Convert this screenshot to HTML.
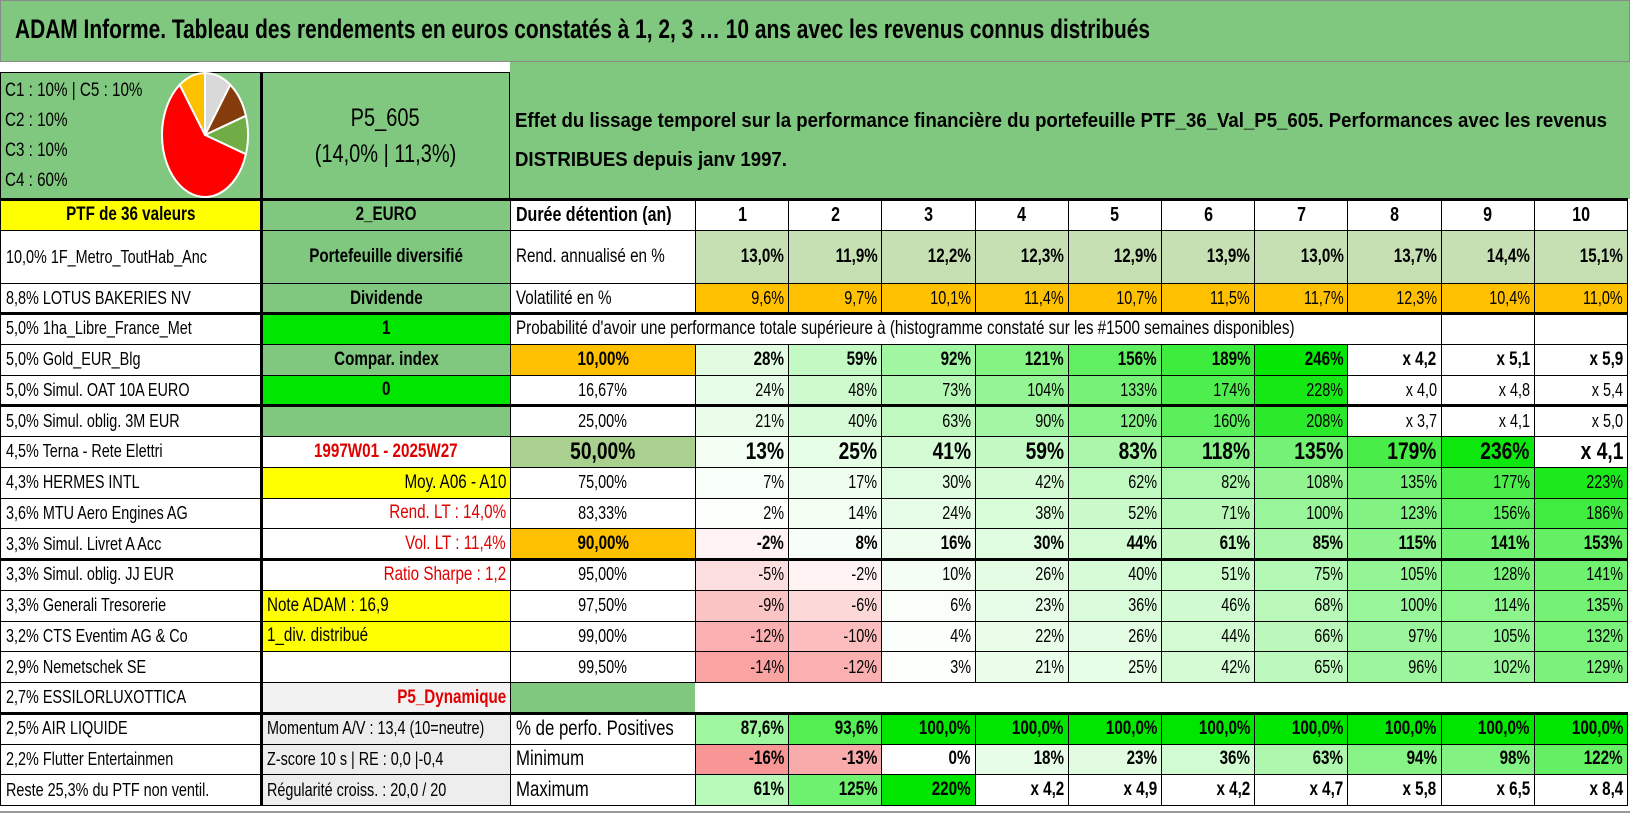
<!DOCTYPE html>
<html><head><meta charset="utf-8"><style>
body{margin:0;width:1630px;height:815px;overflow:hidden;background:#fff;font-family:"Liberation Sans",sans-serif;}
#root{position:relative;width:1630px;height:815px;}
.c{position:absolute;box-sizing:border-box;display:flex;align-items:center;overflow:visible;white-space:nowrap;color:#000;}
.c span{display:inline-block;}
.L{justify-content:flex-start;padding-left:5px}.L span{transform:scaleX(.8);transform-origin:left center}
.R{justify-content:flex-end;padding-right:4px}.R span{transform:scaleX(.8);transform-origin:right center}
.C{justify-content:center}.C span{transform:scaleX(.8);transform-origin:center center}
.ln{position:absolute;background:#000;}
</style></head><body><div id="root">
<div class="c" style="left:0;top:0;width:1630px;height:62px;background:#80C77F;border:1px solid #8a8a8a"></div>
<div id="title" style="position:absolute;left:15px;top:14px;font-weight:bold;font-size:27px;white-space:nowrap;transform-origin:left top">ADAM Informe. Tableau des rendements en euros constatés à 1, 2, 3 … 10 ans avec les revenus connus distribués</div>
<div class="c" style="left:510px;top:62px;width:1120px;height:137px;background:#80C77F"></div>
<div class="c" style="left:0;top:72px;width:261px;height:127px;background:#80C77F;border:1px solid #000"></div>
<div style="position:absolute;left:5px;top:76px;font-size:19px;line-height:30px;transform:scaleX(.8);transform-origin:left top;white-space:nowrap">C1 : 10% | C5 : 10%<br>C2 : 10%<br>C3 : 10%<br>C4 : 60%</div>
<svg style="position:absolute;left:160px;top:72px" width="92" height="128" id="pie"></svg>
<div class="c C" style="left:261px;top:72px;width:249px;height:127px;background:#80C77F;border:1px solid #000;flex-direction:column;justify-content:center;font-size:25px;line-height:36px"><span>P5_605</span><span>(14,0% | 11,3%)</span></div>
<div id="effet" style="position:absolute;left:515px;top:102px;font-weight:bold;font-size:20px;line-height:39px;white-space:nowrap;transform-origin:left top">Effet du lissage temporel sur la performance financière du portefeuille PTF_36_Val_P5_605. Performances avec les revenus<br>DISTRIBUES depuis janv 1997.</div>
</div>
<script>
const years=[1,2,3,4,5,6,7,8,9,10];
const rendAnn=[13.0,11.9,12.2,12.3,12.9,13.9,13.0,13.7,14.4,15.1];
const volat=[9.6,9.7,10.1,11.4,10.7,11.5,11.7,12.3,10.4,11.0];
const pctLabels=["10,00%","16,67%","25,00%","50,00%","75,00%","83,33%","90,00%","95,00%","97,50%","99,00%","99,50%"];
const p10=[28,59,92,121,156,189,246,320,410,490];
const p17=[24,48,73,104,133,174,228,300,380,440];
const p25=[21,40,63,90,120,160,208,270,310,400];
const p50=[13,25,41,59,83,118,135,179,236,310];
const p75=[7,17,30,42,62,82,108,135,177,223];
const p83=[2,14,24,38,52,71,100,123,156,186];
const p90=[-2,8,16,30,44,61,85,115,141,153];
const p95=[-5,-2,10,26,40,51,75,105,128,141];
const p975=[-9,-6,6,23,36,46,68,100,114,135];
const p99=[-12,-10,4,22,26,44,66,97,105,132];
const p995=[-14,-12,3,21,25,42,65,96,102,129];
const posPct=[87.6,93.6,100,100,100,100,100,100,100,100];
const minPerf=[-16,-13,0,18,23,36,63,94,98,122];
const maxPerf=[61,125,220,320,390,320,370,480,550,740];
const assets=["10,0% 1F_Metro_ToutHab_Anc","8,8% LOTUS BAKERIES NV","5,0% 1ha_Libre_France_Met","5,0% Gold_EUR_Blg","5,0% Simul. OAT 10A EURO","5,0% Simul. oblig. 3M EUR","4,5% Terna - Rete Elettri","4,3% HERMES INTL","3,6% MTU Aero Engines AG","3,3% Simul. Livret A Acc","3,3% Simul. oblig. JJ EUR","3,3% Generali Tresorerie","3,2% CTS Eventim AG & Co","2,9% Nemetschek SE","2,7% ESSILORLUXOTTICA","2,5% AIR LIQUIDE","2,2% Flutter Entertainmen","Reste 25,3% du PTF non ventil."];
const pieShares=[10,10,10,60,10];
const pieColors=["#D9D9D9","#843C0C","#70AD47","#FF0000","#FFC000"];

const root=document.getElementById('root');
const cw=93.2;
function nx(i){return 695+i*cw;}
const rowTop=[199,230,283];for(let i=0;i<=16;i++)rowTop.push(313+i*30.75);
function rt(r){return rowTop[r];}function rh(r){return rowTop[r+1]-rowTop[r];}
function cell(name,x,y,w,h,txt,cls,bg,fs,bold,color){
  const d=document.createElement('div');
  d.className='c '+cls;
  
  
  d.style.cssText=`left:${x}px;top:${y}px;width:${w+1}px;height:${h+1}px;background:${bg||'#fff'};border:1px solid #000;font-size:${fs||18}px;font-weight:${bold?'bold':'normal'};color:${color||'#000'}`;
  const s=document.createElement('span');s.textContent=txt;d.appendChild(s);
  root.appendChild(d);return d;
}
function mix(a,b,t){t=Math.max(0,Math.min(1,t));return 'rgb('+a.map((v,i)=>Math.round(v+(b[i]-v)*t)).join(',')+')';}
const W=[255,255,255],G=[0,230,0],P=[248,150,150];
function fmtP(v){return v>=250?'x '+(1+v/100).toFixed(1).replace('.',','):Math.round(v)+'%';}
function colP(v,max){if(v>=250)return '#fff';return v<0?mix(W,P,-v/16):mix(W,G,v/max);}

assets.forEach((a,i)=>{cell('asset-'+i,0,rt(i+1),261,rh(i+1),a,'L','#fff',18);});
cell('ptf-count',0,rt(0),261,rh(0),'PTF de 36 valeurs','C','#FFFF00',19,true);
const GB='#80C77F';
const colB=[["2_EURO",GB,'C','#000'],["Portefeuille diversifié",GB,'C','#000'],["Dividende",GB,'C','#000'],["1",'#00E600','C','#000'],["Compar. index",GB,'C','#000'],["0",'#00E600','C','#000'],["",GB,'C','#000'],["1997W01 - 2025W27",'#fff','C','#E00000'],["Moy. A06 - A10",'#FFFF00','R','#000'],["Rend. LT : 14,0%",'#fff','R','#E00000'],["Vol. LT : 11,4%",'#fff','R','#E00000'],["Ratio Sharpe : 1,2",'#fff','R','#E00000'],["Note ADAM : 16,9",'#FFFF00','L','#000'],["1_div. distribué",'#FFFF00','L','#000'],["",'#fff','C','#000'],["P5_Dynamique",'#F2F2F2','R','#E00000'],["Momentum A/V : 13,4 (10=neutre)",'#EDEDED','L','#000'],["Z-score 10 s | RE : 0,0 |-0,4",'#EDEDED','L','#000'],["Régularité croiss. : 20,0 / 20",'#EDEDED','L','#000']];
colB.forEach((b,i)=>{const big=i<8||i==15;cell('info-'+i,261,rt(i),249,rh(i),b[0],b[2],b[1],i>=16?18:19,big,b[3]);});
cell('duration-label',510,rt(0),185,rh(0),'Durée détention (an)','L','#fff',20,true);
years.forEach((y,i)=>{cell('year-'+y,nx(i),rt(0),cw,rh(0),String(y),'C','#fff',20,true);});
cell('rend-label',510,rt(1),185,rh(1),'Rend. annualisé en %','L','#fff',19);
rendAnn.forEach((v,i)=>{cell('rend-'+years[i],nx(i),rt(1),cw,rh(1),v.toFixed(1).replace('.',',')+'%','R','#C6E0B4',19,true);});
cell('vol-label',510,rt(2),185,rh(2),'Volatilité en %','L','#fff',19);
volat.forEach((v,i)=>{cell('vol-'+years[i],nx(i),rt(2),cw,rh(2),v.toFixed(1).replace('.',',')+'%','R','#FFC000',18);});
cell('prob-title',510,rt(3),nx(8)-510,rh(3),"Probabilité d'avoir une performance totale supérieure à (histogramme constaté sur les #1500 semaines disponibles)",'L','#fff',19);
cell('prob-blank-9',nx(8),rt(3),cw,rh(3),'','C','#fff');
cell('prob-blank-10',nx(9),rt(3),cw,rh(3),'','C','#fff');
const probRows=[p10,p17,p25,p50,p75,p83,p90,p95,p975,p99,p995];
probRows.forEach((row,r)=>{
  const R=r+4;const bold=(r==0||r==3||r==6);const fs=r==3?24:(bold?19:18);
  const lbg=r==0||r==6?'#FFC000':(r==3?'#A9D08E':'#fff');
  cell('pct-label-'+r,510,rt(R),185,rh(R),pctLabels[r],'C',lbg,fs,bold);
  row.forEach((v,i)=>{cell('prob-'+r+'-'+years[i],nx(i),rt(R),cw,rh(R),fmtP(v),'R',colP(v,250),fs,bold);});
});
cell('blank-green',510,rt(15),185,rh(15),'','C',GB);
const wb=document.createElement('div');wb.className='c';


wb.style.cssText=`left:${nx(0)}px;top:${rt(15)+1}px;width:935px;height:${rh(15)-1}px;background:#fff`;root.appendChild(wb);
cell('pos-label',510,rt(16),185,rh(16),'% de perfo. Positives','L','#fff',21);
posPct.forEach((v,i)=>{cell('pos-'+years[i],nx(i),rt(16),cw,rh(16),v.toFixed(1).replace('.',',')+'%','R',mix(W,G,(v-80)/20),19,true);});
cell('min-label',510,rt(17),185,rh(17),'Minimum','L','#fff',21);
minPerf.forEach((v,i)=>{cell('min-'+years[i],nx(i),rt(17),cw,rh(17),fmtP(v),'R',v<0?mix(W,P,-v/16):mix(W,G,v/200),19,true);});
cell('max-label',510,rt(18),185,rh(18),'Maximum','L','#fff',21);
maxPerf.forEach((v,i)=>{cell('max-'+years[i],nx(i),rt(18),cw,rh(18),fmtP(v),'R',v>=250?'#fff':mix(W,G,v/220),19,true);});
function hl(name,y,x1,x2){const d=document.createElement('div');d.className='ln';


d.style.cssText=`left:${x1}px;top:${y-1}px;width:${x2-x1}px;height:3px`;root.appendChild(d);}
hl('thick-line-header',rt(0),0,1628);hl('thick-line-vol',rt(3),0,1628);hl('thick-line-oat',rt(6),0,1628);hl('thick-line-livret',rt(11),0,1628);hl('thick-line-essilor',rt(16),0,1628);
const vl=document.createElement('div');vl.className='ln';


vl.style.cssText=`left:260px;top:72px;width:3px;height:${rt(19)-72}px`;root.appendChild(vl);
const gl=document.createElement('div');gl.className='ln';


gl.style.cssText='left:0;top:811px;width:1630px;height:2px;background:#999';root.appendChild(gl);
const svg=document.getElementById('pie');const cx=45,cy=63,rx=43,ry=62;let a0=-Math.PI/2;const tot=pieShares.reduce((s,v)=>s+v,0);
pieShares.forEach((v,i)=>{const a1=a0+v/tot*2*Math.PI;
 const x0=cx+rx*Math.cos(a0),y0=cy+ry*Math.sin(a0),x1=cx+rx*Math.cos(a1),y1=cy+ry*Math.sin(a1);
 const p=document.createElementNS('http://www.w3.org/2000/svg','path');
 p.setAttribute('d',`M${cx},${cy} L${x0},${y0} A${rx},${ry} 0 ${a1-a0>Math.PI?1:0} 1 ${x1},${y1} Z`);
 p.setAttribute('fill',pieColors[i]);p.setAttribute('stroke','#fff');p.setAttribute('stroke-width','2');
 
 
 svg.appendChild(p);a0=a1;});
function fit(id,w){const e=document.getElementById(id);const r=e.getBoundingClientRect().width;e.style.transform='scaleX('+(w/r)+')';}
fit('title',1135);
fit('effet',1092);
</script></body></html>
